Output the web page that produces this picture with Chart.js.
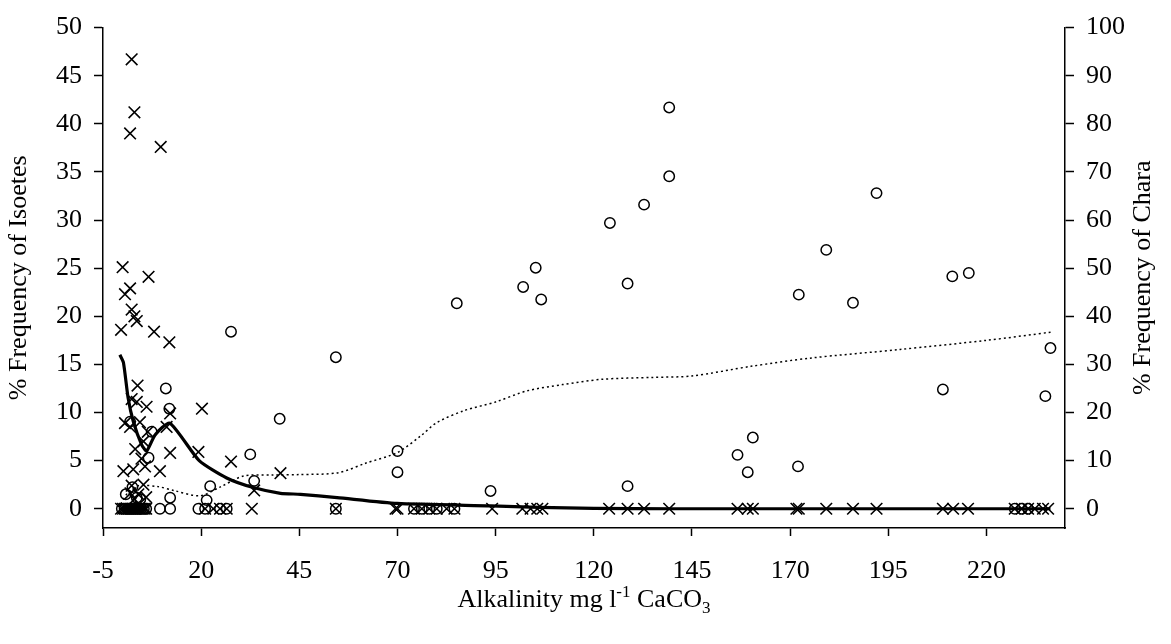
<!DOCTYPE html>
<html>
<head>
<meta charset="utf-8">
<script src="https://cdn.jsdelivr.net/npm/chart.js@4.4.1/dist/chart.umd.min.js"></script>
<style>
  body { margin: 0; background: #fff; }
  #chart { display: block; }
</style>
</head>
<body>
<canvas id="chart" width="1171" height="644"></canvas>
<script>
const FONT = "'Liberation Serif', 'Times New Roman', serif";

const X_TICKS = [-5, 20, 45, 70, 95, 120, 145, 170, 195, 220];
const ISOETES_TICKS = [0, 5, 10, 15, 20, 25, 30, 35, 40, 45, 50];
const CHARA_TICKS = [0, 10, 20, 30, 40, 50, 60, 70, 80, 90, 100];

// Isoetes frequency at each site (left axis)
const isoetesX = [
  2.3, 3.0, 1.9, 9.7, 0.0, 6.6, 1.9, 0.6, 2.3, 3.0, 3.6, -0.4, 8.0, 11.9,
  3.8, 2.3, 3.6, 6.1, 12.1, 20.2, 0.6, 1.9, 4.4, 5.3, 11.2, 12.1, 19.3,
  0.2, 2.7, 5.7, 9.5, 27.6, 40.2, 2.3, 5.3, 33.5, 4.0, 6.0, 3.0, 4.8, 3.2, 6.4, 2.0,
  -0.4, 0.1, 0.6, 1.1, 1.6, 2.1, 2.6, 3.1, 3.6, 4.1, 4.6, 5.1, 5.6, 6.0,
  21.0, 23.1, 24.8, 26.5, 32.9, 54.3, 69.5, 70.0, 74.2, 76.2, 78.1, 80.0, 82.5, 84.5,
  94.1, 101.8, 103.9, 105.6, 106.9, 123.9, 128.6, 132.8, 139.2, 156.6, 159.2, 160.5,
  171.6, 172.2, 179.2, 186.0, 192.0, 208.9, 211.5, 215.3, 227.2, 229.0, 230.6,
  232.3, 234.4, 235.7
];
const isoetesY = [
  46.7, 41.2, 39.0, 37.6, 25.1, 24.1, 22.9, 22.3, 20.7, 20.0, 19.5, 18.6, 18.4, 17.3,
  12.8, 11.4, 11.1, 10.6, 9.9, 10.4, 8.9, 8.5, 9.0, 7.0, 8.5, 5.8, 5.9,
  3.9, 4.1, 4.4, 3.9, 4.9, 3.7, 2.4, 2.5, 1.9, 1.5, 1.2, 1.0, 5.2, 6.2, 8.0, 1.6,
  0, 0, 0, 0, 0, 0, 0, 0, 0, 0, 0, 0, 0, 0,
  0, 0, 0, 0, 0, 0, 0, 0, 0, 0, 0, 0, 0, 0,
  0, 0, 0, 0, 0, 0, 0, 0, 0, 0, 0, 0,
  0, 0, 0, 0, 0, 0, 0, 0, 0, 0, 0,
  0, 0, 0
];

// Chara frequency at each site (right axis)
const charaX = [
  1.9, 7.4, 6.6, 3.6, 2.5, 4.5, 0.8, 11.0, 11.9, 12.1, 21.4, 22.3, 27.6,
  32.5, 33.5, 40.0, 54.3, 70.0, 70.0, 85.1, 93.7, 102.0, 105.2, 106.6,
  124.1, 128.6, 128.6, 132.8, 139.2, 139.2, 156.6, 159.2, 160.5, 172.0, 172.2,
  179.2, 186.0, 192.0, 208.9, 211.3, 215.5, 235.0, 236.3,
  -0.2, 0.5, 1.2, 1.9, 2.6, 3.3, 4.0, 4.7, 5.4, 6.0, 9.5, 12.1, 19.3, 21.0,
  24.8, 26.5, 54.3, 74.2, 76.2, 78.1, 80.0, 84.5, 227.2, 229.0, 230.6
];
const charaY = [
  18.1, 16.0, 10.6, 2.3, 4.5, 2.0, 3.0, 25.0, 20.8, 2.3, 1.8, 4.7, 36.8,
  11.3, 5.8, 18.7, 31.5, 12.0, 7.6, 42.7, 3.7, 46.1, 50.1, 43.5,
  59.4, 46.8, 4.7, 63.2, 83.4, 69.1, 11.2, 7.6, 14.8, 8.8, 44.5,
  53.8, 42.8, 65.6, 24.8, 48.3, 49.0, 23.4, 33.4,
  0, 0, 0, 0, 0, 0, 0, 0, 0, 0, 0, 0, 0, 0,
  0, 0, 0, 0, 0, 0, 0, 0, 0, 0, 0
];

// smoothed trends
const isoetesTrendX = [-0.7, 0.2, 1.4, 2.7, 4.8, 6.1, 8.3, 12.0, 19.5, 26.5, 33.3, 40.2, 45.3, 54.6, 69.9, 93.7, 106, 120, 140, 236.3];
const isoetesTrendY = [16.0, 15.2, 11.5, 9.1, 6.7, 6.0, 7.7, 8.9, 5.0, 3.2, 2.2, 1.6, 1.5, 1.16, 0.55, 0.3, 0.15, 0.03, 0, 0];
const charaTrendX = [-0.5, 1.5, 4.0, 9.0, 13.0, 19.7, 24.8, 30.8, 38.0, 45.0, 55.0, 62.0, 70.0, 76.0, 80.0, 87.0, 95.0, 103.0, 112.0, 122.0, 135.0, 145.0, 160.0, 175.0, 198.0, 220.0, 236.5];
const charaTrendY = [1.0, 3.5, 4.8, 4.6, 3.8, 2.7, 4.5, 6.8, 7.0, 7.1, 7.5, 9.5, 11.7, 15.2, 17.9, 20.4, 22.2, 24.5, 25.8, 26.9, 27.3, 27.6, 29.6, 31.3, 33.1, 35.0, 36.7];

const toPoints = (xs, ys) => xs.map((x, i) => ({ x: x, y: ys[i] }));

// x axis title (with superscript / subscript) and the right axis title,
// which reads bottom-to-top like the left one
const titlesPlugin = {
  id: 'titles',
  afterDraw(chart) {
    const c = chart.ctx;
    const area = chart.chartArea;
    const parts = [
      { text: 'Alkalinity mg l', size: 26, dy: 0 },
      { text: '-1', size: 17, dy: -10 },
      { text: ' CaCO', size: 26, dy: 0 },
      { text: '3', size: 17, dy: 6 }
    ];
    c.save();
    c.fillStyle = '#000';
    c.textBaseline = 'alphabetic';
    let total = 0;
    parts.forEach(p => { c.font = p.size + 'px ' + FONT; p.w = c.measureText(p.text).width; total += p.w; });
    let x = (area.left + area.right) / 2 - total / 2;
    parts.forEach(p => {
      c.font = p.size + 'px ' + FONT;
      c.fillText(p.text, x, 607 + p.dy);
      x += p.w;
    });

    c.translate(1143, (area.top + area.bottom) / 2);
    c.rotate(-Math.PI / 2);
    c.font = '26px ' + FONT;
    c.textAlign = 'center';
    c.textBaseline = 'middle';
    c.fillText('% Frequency of Chara', 0, 0);
    c.restore();
  }
};

function axisStyle(tickLength) {
  return {
    grid: { drawOnChartArea: false, drawTicks: true, tickLength: tickLength, tickColor: '#000', tickWidth: 1.5 },
    border: { display: true, color: '#000', width: 1.5 }
  };
}

new Chart(document.getElementById('chart'), {
  type: 'scatter',
  data: {
    datasets: [
      {
        label: 'Isoetes trend',
        data: toPoints(isoetesTrendX, isoetesTrendY),
        yAxisID: 'yL',
        showLine: true,
        borderColor: '#000',
        borderWidth: 3.2,
        tension: 0.2,
        pointRadius: 0,
        order: 0
      },
      {
        label: 'Chara trend',
        data: toPoints(charaTrendX, charaTrendY),
        yAxisID: 'yR',
        showLine: true,
        borderColor: '#000',
        borderWidth: 1.5,
        borderDash: [2, 3],
        tension: 0.3,
        pointRadius: 0,
        order: 1
      },
      {
        label: 'Isoetes',
        data: toPoints(isoetesX, isoetesY),
        yAxisID: 'yL',
        pointStyle: 'crossRot',
        pointRadius: 8.2,
        borderColor: '#000',
        borderWidth: 1.6,
        order: 2
      },
      {
        label: 'Chara',
        data: toPoints(charaX, charaY),
        yAxisID: 'yR',
        pointStyle: 'circle',
        pointRadius: 5.2,
        borderColor: '#000',
        backgroundColor: 'rgba(0,0,0,0)',
        borderWidth: 1.5,
        order: 3
      }
    ]
  },
  options: {
    responsive: false,
    animation: false,
    layout: { padding: { top: 22, right: 8, left: 0, bottom: 0 } },
    plugins: { legend: { display: false }, tooltip: { enabled: false } },
    scales: {
      x: {
        type: 'linear',
        min: -5,
        max: 240,
        ...axisStyle(8),
        afterBuildTicks: s => { s.ticks = X_TICKS.map(v => ({ value: v })); },
        afterFit: s => { s.height = 116; },
        ticks: { color: '#000', font: { family: FONT, size: 26 }, padding: 20, maxRotation: 0, autoSkip: false }
      },
      yL: {
        position: 'left',
        min: -2,
        max: 50,
        ...axisStyle(9),
        afterBuildTicks: s => { s.ticks = ISOETES_TICKS.map(v => ({ value: v })); },
        afterFit: s => { s.width = 103; },
        ticks: { color: '#000', font: { family: FONT, size: 26 }, padding: 12 },
        title: { display: true, text: '% Frequency of Isoetes', color: '#000', font: { family: FONT, size: 26 } }
      },
      yR: {
        position: 'right',
        min: -4,
        max: 100,
        ...axisStyle(9),
        afterBuildTicks: s => { s.ticks = CHARA_TICKS.map(v => ({ value: v })); },
        afterFit: s => { s.width = 98; },
        ticks: { color: '#000', font: { family: FONT, size: 26 }, padding: 12 }
      }
    }
  },
  plugins: [titlesPlugin]
});
</script>
</body>
</html>
